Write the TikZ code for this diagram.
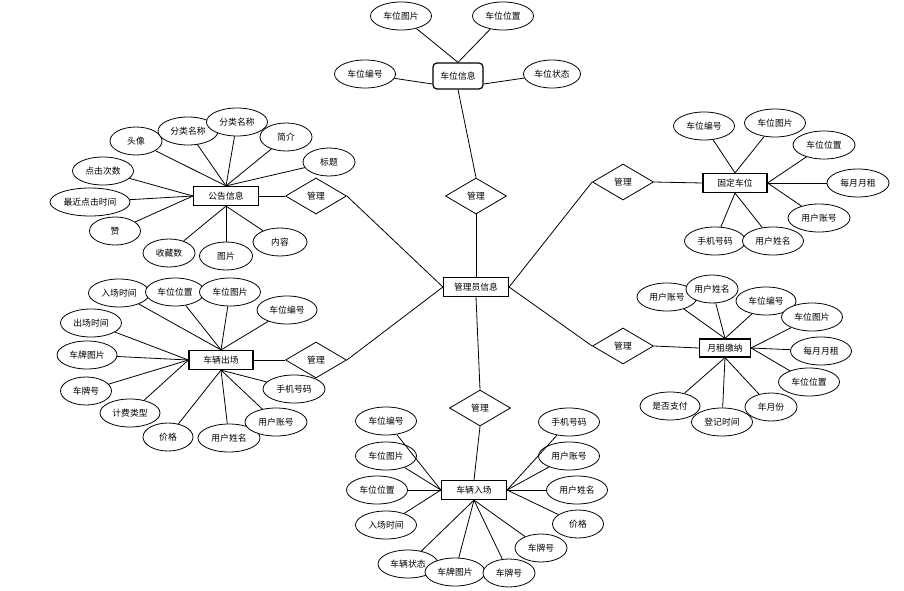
\documentclass[tikz,border=0pt]{standalone}
\usepackage{fontspec}
\newfontfamily\cjk{Noto Sans CJK SC}
\usetikzlibrary{shapes.geometric}

\begin{document}
\begin{tikzpicture}[x=1pt, y=-1pt,
    every node/.style={font=\cjk\fontsize{8.8}{10}\selectfont},
    attr/.style={ellipse, draw, fill=white, line width=0.8pt, inner sep=0pt,
        minimum width=61pt, minimum height=28pt},
    sattr/.style={attr, minimum width=52pt},
    ent/.style={rectangle, draw, fill=white, line width=1.2pt, inner sep=0pt,
        minimum width=65pt, minimum height=19pt},
    rel/.style={diamond, draw, fill=white, line width=0.8pt, inner sep=0pt,
        minimum width=61pt, minimum height=36pt},
    link/.style={line width=0.8pt}]

    \useasboundingbox[fill=white] (0,0) rectangle (904,591);

    % === Centre entity ===
    \node[ent] (gly) at (476,287) {管理员信息};

    % === Entities ===
    \node[ent, rounded corners=4pt, minimum width=50pt, minimum height=26pt] (cwxx) at (458,76) {车位信息};
    \node[ent] (ggxx) at (226,196) {公告信息};
    \node[ent, minimum width=64pt] (clcc) at (221,360) {车辆出场};
    \node[ent, minimum width=64pt] (gdcw) at (735,183) {固定车位};
    \node[ent, minimum width=51pt, minimum height=18pt] (yzjn) at (725,348) {月租缴纳};
    \node[ent] (clrc) at (474,490) {车辆入场};

    % === Relations ===
    \node[rel] (r-cw) at (476,196) {管理};
    \node[rel] (r-gg) at (316,196) {管理};
    \node[rel] (r-cc) at (316,360) {管理};
    \node[rel] (r-gd) at (623,182) {管理};
    \node[rel] (r-yz) at (623,346) {管理};
    \node[rel] (r-rc) at (480,408) {管理};

    \draw[link] (cwxx.south) -- (r-cw.north);
    \draw[link] (r-cw.south) -- (gly.north);
    \draw[link] (ggxx.east) -- (r-gg.west);
    \draw[link] (r-gg.east) -- (gly.west);
    \draw[link] (clcc.east) -- (r-cc.west);
    \draw[link] (r-cc.east) -- (gly.west);
    \draw[link] (gly.east) -- (r-gd.west);
    \draw[link] (r-gd.east) -- (gdcw.west);
    \draw[link] (gly.east) -- (r-yz.west);
    \draw[link] (r-yz.east) -- (yzjn.west);
    \draw[link] (gly.south) -- (r-rc.north);
    \draw[link] (r-rc.south) -- (clrc.north);

    % === 车位信息 attributes ===
    \node[attr] (cw-tp) at (401,16) {车位图片};
    \node[attr] (cw-wz) at (503,16) {车位位置};
    \node[attr] (cw-bh) at (365,74) {车位编号};
    \node[attr, minimum width=57pt] (cw-zt) at (552,74) {车位状态};
    \foreach \a in {cw-tp, cw-wz} \draw[link] (\a) -- (cwxx.north);
    \draw[link] (cw-bh) -- ([yshift=-8pt]cwxx.west);
    \draw[link] (cw-zt) -- ([yshift=-8pt]cwxx.east);

    % === 公告信息 attributes ===
    \node[sattr] (gg-tx) at (136,141) {头像};
    \node[attr, minimum width=60pt] (gg-fl1) at (188,131) {分类名称};
    \node[attr] (gg-fl2) at (237,122) {分类名称};
    \node[sattr] (gg-jj) at (286,137) {简介};
    \node[sattr] (gg-bt) at (329,162) {标题};
    \node[attr] (gg-dj) at (103,171) {点击次数};
    \node[attr, minimum width=80pt] (gg-zj) at (90,202) {最近点击时间};
    \node[sattr, minimum width=51pt] (gg-z) at (115,231) {赞};
    \node[sattr] (gg-sc) at (169,253) {收藏数};
    \node[sattr, minimum width=53pt] (gg-tp) at (226,256) {图片};
    \node[sattr, minimum width=54pt] (gg-nr) at (280,242) {内容};
    \foreach \a in {gg-tx, gg-fl1, gg-fl2, gg-jj, gg-bt} \draw[link] (\a) -- (ggxx.north);
    \foreach \a in {gg-dj, gg-zj, gg-z} \draw[link] (\a) -- (ggxx.west);
    \foreach \a in {gg-sc, gg-tp, gg-nr} \draw[link] (\a) -- (ggxx.south);

    % === 车辆出场 attributes ===
    \node[attr] (cc-rc) at (119,293) {入场时间};
    \node[attr, minimum width=59pt] (cc-wz) at (175,292) {车位位置};
    \node[attr] (cc-tp) at (230,292) {车位图片};
    \node[attr, minimum width=60pt] (cc-bh) at (287,310) {车位编号};
    \node[attr] (cc-cc) at (91,323) {出场时间};
    \node[attr, minimum width=60pt] (cc-cptp) at (87,355) {车牌图片};
    \node[sattr, minimum width=51pt] (cc-cph) at (86,391) {车牌号};
    \node[attr, minimum width=60pt] (cc-jf) at (130,413) {计费类型};
    \node[sattr, minimum width=50pt] (cc-jg) at (168,437) {价格};
    \node[attr, minimum width=62pt] (cc-xm) at (229,438) {用户姓名};
    \node[attr, minimum width=62pt] (cc-zh) at (276,422) {用户账号};
    \node[attr, minimum width=62pt] (cc-sj) at (294,389) {手机号码};
    \foreach \a in {cc-rc, cc-wz, cc-tp, cc-bh} \draw[link] (\a) -- (clcc.north);
    \foreach \a in {cc-cc, cc-cptp, cc-cph, cc-jf} \draw[link] (\a) -- (clcc.west);
    \foreach \a in {cc-jg, cc-xm, cc-zh, cc-sj} \draw[link] (\a) -- (clcc.south);

    % === 固定车位 attributes ===
    \node[attr] (gd-bh) at (704,126) {车位编号};
    \node[attr] (gd-tp) at (775,123) {车位图片};
    \node[attr, minimum width=62pt] (gd-wz) at (824,145) {车位位置};
    \node[attr, minimum width=62pt] (gd-yz) at (858,183) {每月月租};
    \node[attr, minimum width=62pt] (gd-zh) at (819,218) {用户账号};
    \node[attr] (gd-sj) at (715,241) {手机号码};
    \node[attr] (gd-xm) at (773,241) {用户姓名};
    \foreach \a in {gd-bh, gd-tp} \draw[link] (\a) -- (gdcw.north);
    \foreach \a in {gd-wz, gd-yz, gd-zh} \draw[link] (\a) -- (gdcw.east);
    \foreach \a in {gd-sj, gd-xm} \draw[link] (\a) -- (gdcw.south);

    % === 月租缴纳 attributes ===
    \node[attr, minimum width=60pt] (yz-zh) at (667,297) {用户账号};
    \node[sattr] (yz-xm) at (712,289) {用户姓名};
    \node[attr, minimum width=60pt] (yz-bh) at (766,301) {车位编号};
    \node[attr] (yz-tp) at (812,317) {车位图片};
    \node[attr] (yz-yz) at (821,351) {每月月租};
    \node[attr] (yz-wz) at (809,382) {车位位置};
    \node[sattr] (yz-yf) at (771,407) {年月份};
    \node[attr] (yz-dj) at (722,422) {登记时间};
    \node[attr, minimum width=60pt] (yz-zf) at (670,406) {是否支付};
    \foreach \a in {yz-zh, yz-xm, yz-bh} \draw[link] (\a) -- (yzjn.north);
    \foreach \a in {yz-tp, yz-yz, yz-wz} \draw[link] (\a) -- (yzjn.east);
    \foreach \a in {yz-yf, yz-dj, yz-zf} \draw[link] (\a) -- (yzjn.south);

    % === 车辆入场 attributes ===
    \node[attr] (rc-bh) at (386,421) {车位编号};
    \node[attr] (rc-tp) at (386,456) {车位图片};
    \node[attr] (rc-wz) at (377,490) {车位位置};
    \node[attr] (rc-rc) at (386,525) {入场时间};
    \node[attr] (rc-sj) at (569,422) {手机号码};
    \node[attr] (rc-zh) at (569,456) {用户账号};
    \node[attr] (rc-xm) at (577,490) {用户姓名};
    \node[sattr, minimum width=51pt] (rc-jg) at (578,524) {价格};
    \node[sattr] (rc-cph1) at (541,548) {车牌号};
    \node[attr, minimum width=60pt] (rc-zt) at (408,564) {车辆状态};
    \node[attr, minimum width=60pt] (rc-cptp) at (455,572) {车牌图片};
    \node[sattr] (rc-cph2) at (509,573) {车牌号};
    \foreach \a in {rc-bh, rc-tp, rc-wz, rc-rc} \draw[link] (\a) -- (clrc.west);
    \foreach \a in {rc-sj, rc-zh, rc-xm, rc-jg} \draw[link] (\a) -- (clrc.east);
    \foreach \a in {rc-cph1, rc-zt, rc-cptp, rc-cph2} \draw[link] (\a) -- (clrc.south);

\end{tikzpicture}
\end{document}
